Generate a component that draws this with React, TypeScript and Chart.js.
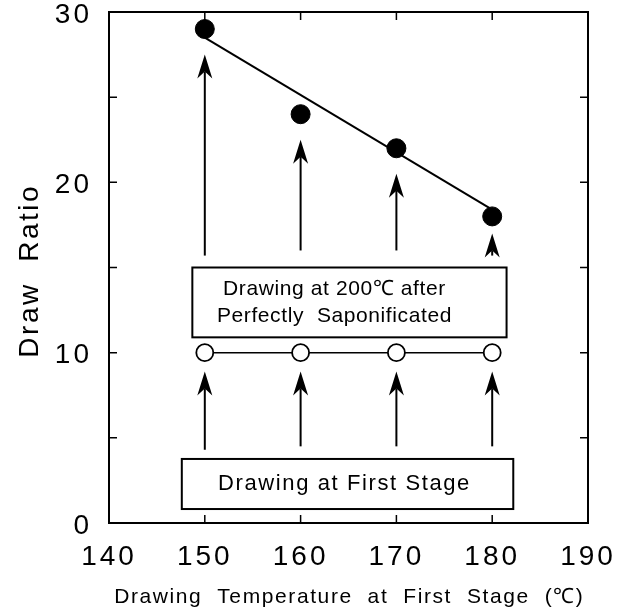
import React, { useEffect, useRef } from "react";
import { Chart, registerables } from "chart.js";

Chart.register(...registerables);

// ---- data ----
const temperatures = [150, 160, 170, 180];
const drawRatioAfterSaponification = [29, 24, 22, 18];
const drawRatioFirstStage = [10, 10, 10, 10];
const fitLineX = [150, 180];
const fitLineY = [28.5, 18.4];
const upperArrowFrom = [15.7, 16.0, 16.0, 15.7];
const upperArrowTo = [27.5, 22.5, 20.5, 17.0];
const lowerArrowFrom = [4.3, 4.5, 4.5, 4.5];
const lowerArrowTo = [8.9, 8.9, 8.9, 8.9];
const xTickValues = [140, 150, 160, 170, 180, 190];
const yMinorTickValues = [5, 10, 15, 20, 25];
const xInnerTickValues = [150, 160, 170, 180];

const xTitle = "Drawing  Temperature  at  First  Stage  (\u2103)";
const yTitle = "Draw  Ratio";
const box1Lines = ["Drawing at 200\u2103 after", "Perfectly  Saponificated"];
const box2Lines = ["Drawing at First Stage"];

// annotation boxes in data units
const box1 = { x0: 148.7, x1: 181.5, y0: 10.9, y1: 15.0 };
const box2 = { x0: 147.6, x1: 182.2, y0: 0.82, y1: 3.76 };

const FONT = "'Liberation Sans', Arial, sans-serif";

function drawSpacedText(ctx: CanvasRenderingContext2D, text: string, x: number, y: number, font: string, spacing: number) {
  ctx.save();
  ctx.font = font;
  (ctx as any).letterSpacing = spacing + "px";
  ctx.textAlign = "center";
  ctx.textBaseline = "middle";
  ctx.fillStyle = "#000";
  ctx.fillText(text, x + spacing / 2, y);
  ctx.restore();
}

function drawArrow(ctx: CanvasRenderingContext2D, x: number, yFrom: number, yTo: number) {
  const headLen = 24;
  const halfW = 7.5;
  const notch = 7;
  ctx.save();
  ctx.strokeStyle = "#000";
  ctx.fillStyle = "#000";
  ctx.lineWidth = 2;
  ctx.beginPath();
  ctx.moveTo(x, yFrom);
  ctx.lineTo(x, yTo + headLen - notch);
  ctx.stroke();
  ctx.beginPath();
  ctx.moveTo(x, yTo);
  ctx.lineTo(x + halfW, yTo + headLen);
  ctx.lineTo(x, yTo + headLen - notch);
  ctx.lineTo(x - halfW, yTo + headLen);
  ctx.closePath();
  ctx.fill();
  ctx.restore();
}

const decorPlugin = {
  id: "decor",
  beforeDraw(chart: any) {
    chart.ctx.letterSpacing = "3px";
  },
  beforeDatasetsDraw(chart: any) {
    const ctx = chart.ctx as CanvasRenderingContext2D;
    const xs = chart.scales.x;
    const ys = chart.scales.y;
    temperatures.forEach((t, i) => {
      const px = xs.getPixelForValue(t);
      drawArrow(ctx, px, ys.getPixelForValue(upperArrowFrom[i]), ys.getPixelForValue(upperArrowTo[i]));
      drawArrow(ctx, px, ys.getPixelForValue(lowerArrowFrom[i]), ys.getPixelForValue(lowerArrowTo[i]));
    });
    const drawBox = (b: any, lines: string[], size: number, spacing: number, lineGap: number, textCx: number) => {
      const l = xs.getPixelForValue(b.x0);
      const r = xs.getPixelForValue(b.x1);
      const t = ys.getPixelForValue(b.y1);
      const bt = ys.getPixelForValue(b.y0);
      ctx.save();
      ctx.fillStyle = "#fff";
      ctx.fillRect(l, t, r - l, bt - t);
      ctx.strokeStyle = "#000";
      ctx.lineWidth = 2;
      ctx.strokeRect(l, t, r - l, bt - t);
      ctx.restore();
      const cy = (t + bt) / 2;
      const cx = xs.getPixelForValue(textCx);
      lines.forEach((ln, k) => {
        const y = cy + (k - (lines.length - 1) / 2) * lineGap;
        drawSpacedText(ctx, ln, cx, y, size + "px " + FONT, spacing);
      });
    };
    drawBox(box1, box1Lines, 21, 0.6, 27, 163.5);
    drawBox(box2, box2Lines, 22, 1.6, 0, 164.5);
  },
  afterDraw(chart: any) {
    const ctx = chart.ctx as CanvasRenderingContext2D;
    const xs = chart.scales.x;
    const ys = chart.scales.y;
    const a = chart.chartArea;
    ctx.save();
    ctx.strokeStyle = "#000";
    ctx.lineWidth = 2;
    ctx.strokeRect(a.left, a.top, a.right - a.left, a.bottom - a.top);
    ctx.lineWidth = 1.5;
    const tl = 8;
    ctx.beginPath();
    xInnerTickValues.forEach((v) => {
      const px = xs.getPixelForValue(v);
      ctx.moveTo(px, a.top);
      ctx.lineTo(px, a.top + tl);
      ctx.moveTo(px, a.bottom);
      ctx.lineTo(px, a.bottom - tl);
    });
    yMinorTickValues.forEach((v) => {
      const py = ys.getPixelForValue(v);
      ctx.moveTo(a.left, py);
      ctx.lineTo(a.left + tl, py);
      ctx.moveTo(a.right, py);
      ctx.lineTo(a.right - tl, py);
    });
    ctx.stroke();
    ctx.restore();

    drawSpacedText(ctx, xTitle, (a.left + a.right) / 2, 597, "21px " + FONT, 1.6);
    ctx.save();
    ctx.translate(30, 272);
    ctx.rotate(-Math.PI / 2);
    drawSpacedText(ctx, yTitle, 0, 0, "28px " + FONT, 2.5);
    ctx.restore();
  },
};

export default function App() {
  const ref = useRef<HTMLCanvasElement | null>(null);
  useEffect(() => {
    document.body.style.margin = "0";
    const canvas = ref.current!;
    const chart = new Chart(canvas, {
      type: "scatter",
      data: {
        datasets: [
          {
            label: "after saponification",
            data: temperatures.map((t, i) => ({ x: t, y: drawRatioAfterSaponification[i] })),
            backgroundColor: "#000",
            borderColor: "#000",
            pointRadius: 9.5,
            pointHoverRadius: 9.5,
            showLine: false,
            order: 0,
          },
          {
            label: "fit",
            data: fitLineX.map((x, i) => ({ x, y: fitLineY[i] })),
            borderColor: "#000",
            borderWidth: 2,
            pointRadius: 0,
            showLine: true,
            order: 1,
          },
          {
            label: "first stage",
            data: temperatures.map((t, i) => ({ x: t, y: drawRatioFirstStage[i] })),
            borderColor: "#000",
            borderWidth: 1.5,
            backgroundColor: "#fff",
            pointBackgroundColor: "#fff",
            pointBorderColor: "#000",
            pointBorderWidth: 1.8,
            pointRadius: 8.5,
            showLine: true,
            order: 0,
          },
        ],
      },
      options: {
        animation: false,
        responsive: false,
        devicePixelRatio: 1,
        layout: { padding: { left: 0, right: 39, top: 12, bottom: 0 } },
        plugins: { legend: { display: false }, tooltip: { enabled: false } },
        scales: {
          x: {
            type: "linear",
            min: 140,
            max: 190,
            afterBuildTicks: (s: any) => {
              s.ticks = xTickValues.map((v) => ({ value: v }));
            },
            afterFit: (s: any) => {
              s.height = 90;
              s.paddingLeft = 0;
              s.paddingRight = 0;
            },
            grid: { display: false, drawTicks: false },
            border: { display: false },
            ticks: {
              color: "#000",
              padding: 17,
              maxRotation: 0,
              font: { family: FONT, size: 28 },
            },
          },
          y: {
            type: "linear",
            min: 0,
            max: 30,
            ticks: {
              stepSize: 10,
              color: "#000",
              padding: 17,
              labelOffset: 3,
              font: { family: FONT, size: 28 },
            },
            afterFit: (s: any) => {
              s.width = 109;
              s.paddingTop = 0;
              s.paddingBottom = 0;
            },
            grid: { display: false, drawTicks: false },
            border: { display: false },
          },
        },
      },
      plugins: [decorPlugin],
    } as any);
    return () => chart.destroy();
  }, []);
  return (
    <div style={{ width: 627, height: 613, background: "#fff" }}>
      <canvas ref={ref} width={627} height={613} style={{ display: "block" }} />
    </div>
  );
}
